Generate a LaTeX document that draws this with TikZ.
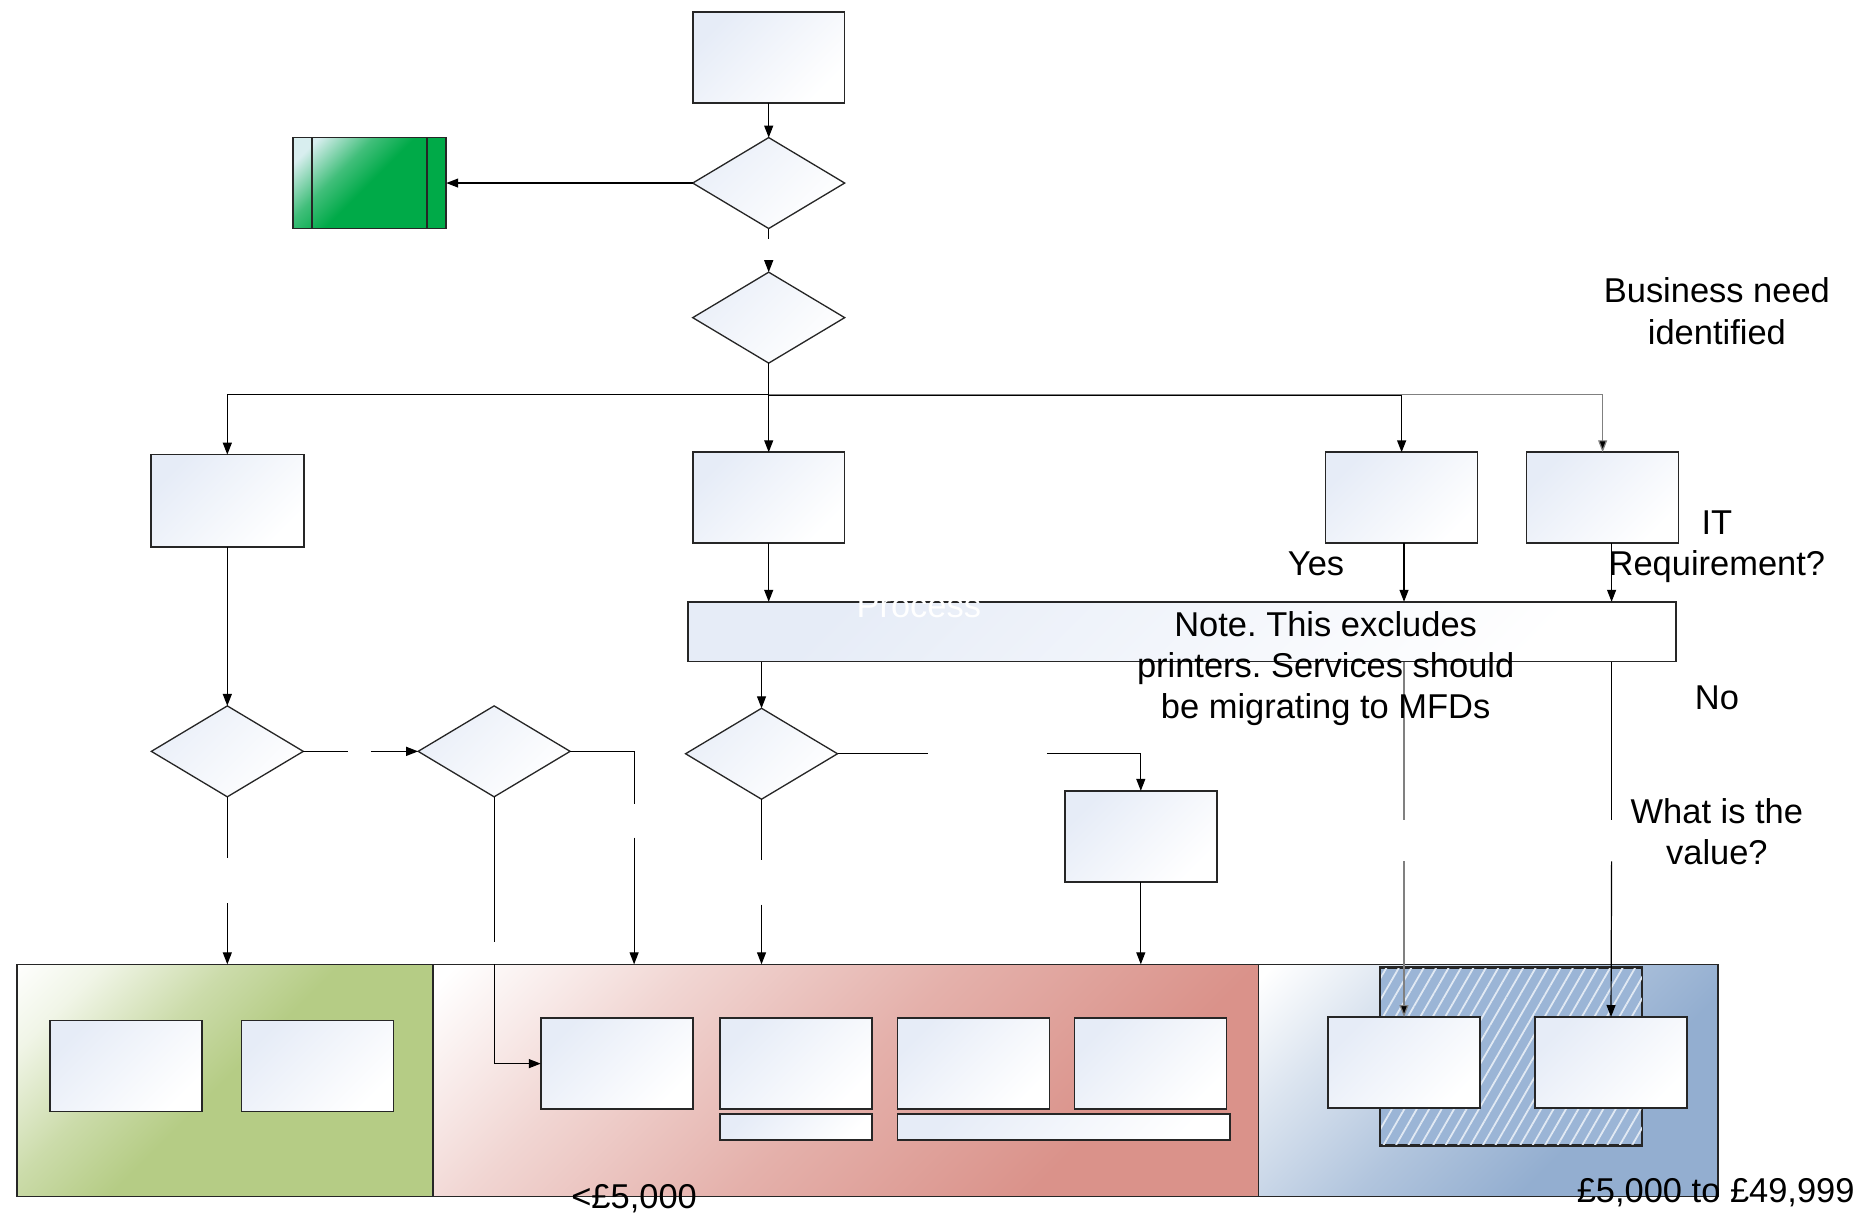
\documentclass[tikz,border=0pt]{standalone}
\usepackage{fontspec}
\setmainfont{Liberation Sans}
\usetikzlibrary{shapes.geometric,arrows.meta,patterns.meta}
\definecolor{bxlight}{HTML}{E6ECF7}
\definecolor{sgreen}{HTML}{B5CC85}
\definecolor{sred}{HTML}{DA928A}
\definecolor{sblue}{HTML}{93AED0}
\definecolor{hatchblue}{HTML}{9BB5D6}
\definecolor{gdark}{HTML}{00AA48}
\definecolor{glight}{HTML}{D8EEEF}
\pgfdeclareverticalshading{secgreen}{100bp}{color(0bp)=(sgreen); color(50bp)=(sgreen); color(62bp)=(sgreen!70!white); color(76bp)=(sgreen!20!white); color(86bp)=(white); color(100bp)=(white)}
\pgfdeclareverticalshading{secred}{100bp}{color(0bp)=(sred); color(30bp)=(sred); color(50bp)=(sred!72!white); color(68bp)=(sred!38!white); color(84bp)=(white); color(100bp)=(white)}
\pgfdeclareverticalshading{secblue}{100bp}{color(0bp)=(sblue); color(35bp)=(sblue); color(52bp)=(sblue!72!white); color(70bp)=(sblue!33!white); color(84bp)=(white); color(100bp)=(white)}
\pgfdeclareverticalshading{grnbox}{100bp}{color(0bp)=(gdark); color(50bp)=(gdark); color(62bp)=(gdark!70!glight); color(78bp)=(glight); color(100bp)=(glight)}
\tikzset{
  box/.style={draw=black!85, line width=1.3pt, left color=bxlight, right color=white, shading angle=45,
    minimum width=127pt, minimum height=76pt, inner sep=0pt, outer sep=0pt},
  dia/.style={diamond, draw=black!85, line width=1.1pt, left color=bxlight!85, right color=white, shading angle=45,
    minimum width=127pt, minimum height=76pt, inner sep=0pt, outer sep=0pt},
  sec/.style={draw=black!85, line width=1.3pt, inner sep=0pt, outer sep=0pt, minimum height=194pt},
  ln/.style={line width=1pt, draw=black},
  gln/.style={line width=1pt, draw=black!50},
  arr/.style={ln, -{Triangle[length=10pt,width=7.5pt]}},
  garr/.style={gln, -{Triangle[length=10pt,width=7.5pt,fill=black]}},
  lbl/.style={font=\fontsize{28.8}{34.5}\selectfont, align=center, inner sep=0pt},
}
\begin{document}
\frenchspacing
\begin{tikzpicture}[x=1pt,y=-1pt]
\useasboundingbox (0,0) rectangle (1568,1016);

% bottom sections
\node[sec, minimum width=348pt, shading=secgreen, shading angle=45] (secG) at (188,903) {};
\node[sec, minimum width=690pt, shading=secred, shading angle=45] (secR) at (707,903) {};
\node[sec, minimum width=384pt, shading=secblue, shading angle=45] (secB) at (1244,903) {};
\node[draw=black!85, line width=1.3pt, fill=hatchblue, minimum width=218pt, minimum height=148pt, inner sep=0pt] (hatch) at (1263,883) {};
\fill[pattern={Lines[angle=60,distance=9pt,line width=1.5pt]}, pattern color=white!70!hatchblue] (hatch.south west) rectangle (hatch.north east);
\draw[black!85, line width=1.3pt] (hatch.south west) rectangle (hatch.north east);

% boxes in sections
\node[box] (G1) at (105.5,891) {};
\node[box] (G2) at (265.5,891) {};
\node[box] (P1) at (515.5,889) {};
\node[box] (P2) at (665.5,889) {};
\node[box] (P3) at (813.5,889) {};
\node[box] (P4) at (961.5,889) {};
\node[box, minimum height=22pt] (S1) at (665.5,942) {};
\node[box, minimum width=278pt, minimum height=22pt] (S2) at (889,942) {};
\node[box] (B1) at (1173.5,888) {};
\node[box] (B2) at (1346.5,888) {};

% top part
\node[box] (start) at (642.5,48) {};
\node[dia] (d1) at (642.5,153) {};
\node[box, minimum width=128pt, shading=grnbox, shading angle=45] (gbox) at (309,153) {};
\draw[black!85, line width=1.3pt] ([xshift=16pt]gbox.north west) -- ([xshift=16pt]gbox.south west)
  ([xshift=-16pt]gbox.north east) -- ([xshift=-16pt]gbox.south east);
\node[dia] (d2) at (642.5,265.5) {};

\node[box, minimum width=128pt, minimum height=77pt] (L1) at (190,418.5) {};
\node[box] (M) at (642.5,416) {};
\node[box] (R1) at (1171.5,416) {};
\node[box] (R2) at (1339.5,416) {};

\node[box, minimum width=826pt, minimum height=50pt] (bar) at (988,528) {};
\node[lbl, text=white] (proc) at (768,506) {Process};

\node[dia] (d4) at (190,628) {};
\node[dia] (d5) at (413,628) {};
\node[dia] (d3) at (636.5,630) {};
\node[box] (Q) at (953.5,699) {};

% coordinates for gaps
\coordinate (j) at (642.5,330);
\coordinate (ga) at (463,153); \coordinate (gb) at (489,153);
\coordinate (b1) at (642.5,200); \coordinate (b2) at (642.5,219);
\coordinate (c1) at (291,628); \coordinate (c2) at (310,628);
\coordinate (e1) at (530,672); \coordinate (e2) at (530,700);
\coordinate (f1) at (413,787); \coordinate (f2) at (413,806);
\coordinate (h1) at (190,717); \coordinate (h2) at (190,755);
\coordinate (k1) at (636.5,719); \coordinate (k2) at (636.5,756);
\coordinate (m1) at (776,630); \coordinate (m2) at (875,630);
\coordinate (n1) at (1173.5,685); \coordinate (n2) at (1173.5,720);
\coordinate (p1) at (1347,685); \coordinate (p2) at (1347,720);

% connectors
\draw[arr] (start) -- (d1);
\draw[ln] (d1.west) -- (ga);
\draw[arr] (gb) -- (gbox.east);
\draw[ln] (d1.south) -- (b1);
\draw[arr] (b2) -- (d2.north);
\draw[ln] (d2.south) -- (j);
\draw[arr] (j) -- (M.north);
\draw[arr] (j) -| (L1.north);
\draw[arr, line width=1.3pt] (j) -| (R1.north);
\draw[garr] (j) -| (R2.north);
\draw[arr] (M.south) -- (M.south |- bar.north);
\draw[arr] (R1.south -| B1.north) -- (B1.north |- bar.north);
\draw[arr] (R2.south -| p1) -- (p1 |- bar.north);
\draw[arr] (L1.south) -- (d4.north);
\draw[arr] (d3.north |- bar.south) -- (d3.north);
\draw[gln] (n1 |- bar.south) -- (n1);
\draw[garr] (n2) -- (B1.north);
\draw[ln] (p1 |- bar.south) -- (p1);
\draw[arr] (p2) -- (B2.north);
\draw[ln] (d4.east) -- (c1);
\draw[arr] (c2) -- (d5.west);
\draw[ln] (d5.east) -| (e1);
\draw[arr] (e2) -- (e2 |- secR.north);
\draw[ln] (d5.south) -- (f1);
\draw[arr] (f2) |- (P1.west);
\draw[ln] (d4.south) -- (h1);
\draw[arr] (h2) -- (h2 |- secG.north);
\draw[ln] (d3.south) -- (k1);
\draw[arr] (k2) -- (k2 |- secR.north);
\draw[ln] (d3.east) -- (m1);
\draw[arr] (m2) -| (Q.north);
\draw[arr] (Q.south) -- (Q.south |- secR.north);

% labels
\node[lbl] (t1) at (1435,260) {Business need\\identified};
\node[lbl] (t2) at (1435,457) {IT\\Requirement?};
\node[lbl] (t3) at (1100,471) {Yes};
\node[lbl] (t4) at (1435,583) {No};
\node[lbl] (t5) at (1435,695) {What is the\\value?};
\node[lbl] (t6) at (1108,559) {Note. This excludes\\printers. Services should\\be migrating to MFDs};
\node[lbl] (t7) at (530,1002) {<£5,000};
\node[lbl] (t8) at (1434,997) {£5,000 to £49,999};
\end{tikzpicture}
\end{document}
